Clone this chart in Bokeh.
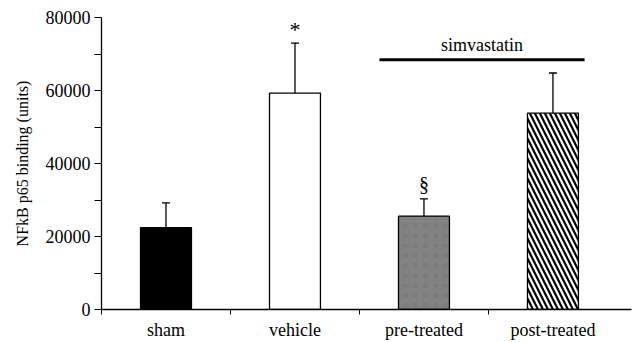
from bokeh.plotting import figure
from bokeh.models import ColumnDataSource, FixedTicker, Whisker, TeeHead, Range1d
from bokeh.core.properties import value
from bokeh.embed import file_html
from bokeh.resources import INLINE

# ---- data ----
categories = ["sham", "vehicle", "pre-treated", "post-treated"]
means = [22400, 59300, 25600, 53800]
upper_err = [29200, 73000, 30300, 64800]
y_ticks = [0, 20000, 40000, 60000, 80000]
y_minor = [10000, 30000, 50000, 70000]
marks = ["", "*", "§", ""]
group_label = "simvastatin"
group_level = 68400

# ---- styles ----
fills = ["black", "white", "#828282", "white"]
hatches = [" ", " ", ".", "\\"]
hatch_colors = ["black", "black", "#7b7b7b", "black"]
hatch_scales = [6, 6, 10, 10]
hatch_weights = [1, 1, 0.8, 2.2]
mark_sizes = {"*": "22px", "§": "20px"}
mark_offsets = {"*": 200, "§": 1000}

FONT = "Liberation Serif"

xs = [i + 0.5 for i in range(len(categories))]
src = ColumnDataSource(dict(x=xs, top=means, upper=upper_err, fill=fills,
                            hatch=hatches, hcol=hatch_colors, hscale=hatch_scales,
                            hweight=hatch_weights))

p = figure(width=636, height=342, output_backend="svg", toolbar_location=None,
           x_range=Range1d(0, 4.109), y_range=Range1d(0, 80000),
           min_border_left=101, min_border_right=5, min_border_top=17, min_border_bottom=28)
p.outline_line_color = None
p.xgrid.visible = False
p.ygrid.visible = False
p.background_fill_color = "white"
p.border_fill_color = "white"

p.vbar(x="x", top="top", width=0.395, bottom=0, source=src, fill_color="fill",
       line_color="black", line_width=1.3, hatch_pattern="hatch", hatch_color="hcol",
       hatch_scale="hscale", hatch_weight="hweight")

wh = Whisker(source=src, base="x", lower="top", upper="upper", dimension="height",
             line_color="black", line_width=1.3,
             upper_head=TeeHead(size=8, line_color="black", line_width=1.3),
             lower_head=None)
p.add_layout(wh)

# significance marks above the error bars
for i, m in enumerate(marks):
    if m:
        p.text(x=[xs[i]], y=[upper_err[i] + mark_offsets[m]], text=[m],
               text_font=value(FONT), text_font_size=mark_sizes[m], text_align="center",
               text_baseline="bottom", text_color="black")

# simvastatin bracket
x0 = xs[2] - 0.345
x1 = xs[3] + 0.245
p.segment(x0=[x0], y0=[group_level], x1=[x1], y1=[group_level], line_color="black",
          line_width=3)
p.text(x=[(x0 + x1) / 2], y=[group_level + 1400], text=[group_label],
       text_font=value(FONT), text_font_size="18px", text_align="center",
       text_baseline="bottom", text_color="black")

# axes
xa = p.xaxis[0]
xa.ticker = FixedTicker(ticks=xs, minor_ticks=[0, 1, 2, 3])
xa.major_label_overrides = {x: c for x, c in zip(xs, categories)}
xa.major_tick_out = 0
xa.major_tick_in = 0
xa.minor_tick_out = 5
xa.minor_tick_in = 0
xa.major_label_standoff = 5
xa.major_label_text_font = FONT
xa.major_label_text_font_size = "18px"
xa.major_label_text_color = "black"
xa.axis_line_color = "black"
xa.axis_line_width = 1.3
xa.minor_tick_line_color = "black"

ya = p.yaxis[0]
ya.ticker = FixedTicker(ticks=y_ticks, minor_ticks=y_minor)
ya.major_tick_out = 7
ya.major_tick_in = 0
ya.minor_tick_out = 7
ya.minor_tick_in = 0
ya.major_label_standoff = 4
ya.major_label_text_font = FONT
ya.major_label_text_font_size = "18px"
ya.major_label_text_color = "black"
ya.axis_line_color = "black"
ya.axis_line_width = 1.3
ya.major_tick_line_color = "black"
ya.minor_tick_line_color = "black"
ya.axis_label = "NFkB p65 binding (units)"
ya.axis_label_text_font = FONT
ya.axis_label_text_font_size = "16px"
ya.axis_label_text_font_style = "normal"
ya.axis_label_text_color = "black"
ya.axis_label_standoff = 12

open("out.html", "w").write(file_html(p, INLINE))
